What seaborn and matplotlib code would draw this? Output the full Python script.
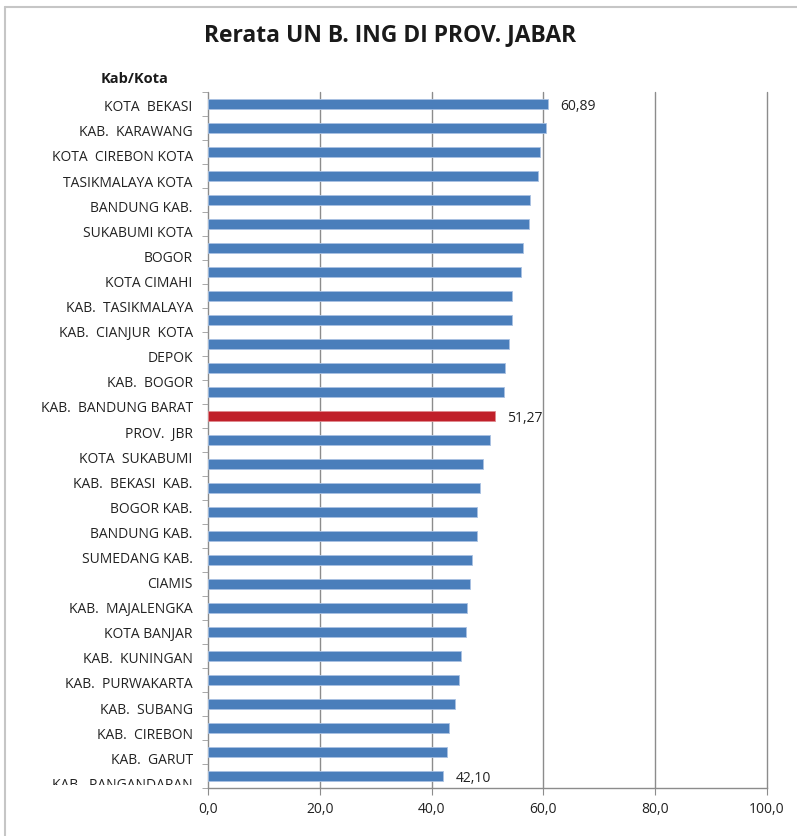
import numpy as np
import pandas as pd
import matplotlib.pyplot as plt
from matplotlib.lines import Line2D
from matplotlib.patches import Rectangle
import seaborn as sns

# label kab/kota (28 label terbaca, 29 batang pada grafik asli)
kab_kota = ['KOTA  BEKASI', 'KAB.  KARAWANG', 'KOTA  CIREBON KOTA', 'TASIKMALAYA KOTA',
            'BANDUNG KAB.', 'SUKABUMI KOTA', 'BOGOR', 'KOTA CIMAHI',
            'KAB.  TASIKMALAYA', 'KAB.  CIANJUR  KOTA', 'DEPOK', 'KAB.  BOGOR',
            'KAB.  BANDUNG BARAT', 'PROV.  JBR', 'KOTA  SUKABUMI', 'KAB.  BEKASI  KAB.',
            'BOGOR KAB.', 'BANDUNG KAB.', 'SUMEDANG KAB.', 'CIAMIS',
            'KAB.  MAJALENGKA', 'KOTA BANJAR', 'KAB.  KUNINGAN', 'KAB.  PURWAKARTA',
            'KAB.  SUBANG', 'KAB.  CIREBON', 'KAB.  GARUT', 'KAB.  PANGANDARAN']
rerata = [60.89, 60.5, 59.4, 59.0, 57.6, 57.5, 56.4, 55.9, 54.4, 54.3,
          53.8, 53.1, 52.9, 51.27, 50.5, 49.2, 48.6, 48.2, 48.1, 47.3,
          46.9, 46.3, 46.1, 45.3, 44.9, 44.2, 43.1, 42.8, 42.10]
highlight = 13          # batang rata-rata provinsi
show_value = [0, 13, 28]
x_ticks = [0, 20, 40, 60, 80, 100]

BLUE = '#4a7ebb'
RED = '#c0202a'

df = pd.DataFrame({'pos': range(len(rerata)), 'nilai': rerata})
colors = [RED if i == highlight else BLUE for i in range(len(rerata))]

sns.set_style('white')
plt.rcParams['font.family'] = ['Open Sans', 'DejaVu Sans']

fig = plt.figure(figsize=(7.97, 8.36), dpi=100)
ax = fig.add_axes([0.261, 0.0574, 0.7014, 0.8325])

sns.barplot(data=df, x='nilai', y='pos', hue='pos', palette=colors, orient='h',
            width=0.42, saturation=1, legend=False, edgecolor='#a9c1e2',
            linewidth=0.6, ax=ax)
for i, p in enumerate(ax.patches):
    if i == highlight:
        p.set_edgecolor('#e08a8f')

ax.set_xlim(0, 100)
ax.set_ylim(len(rerata) - 0.5, -0.5)
ax.set_xticks(x_ticks)
ax.set_xticklabels([f'{v:.1f}'.replace('.', ',') for v in x_ticks], fontsize=10, color='#222222')
ax.xaxis.grid(True, color='#8c8c8c', linewidth=1)
ax.set_axisbelow(True)
ax.tick_params(axis='x', length=5, color='#8c8c8c', pad=5, bottom=True)
for g in ax.xaxis.get_gridlines():
    g.set_clip_on(False)

# label kategori bergeser relatif terhadap batang (seperti aslinya)
label_pos = np.arange(len(kab_kota)) * 25.1 / 24 + 0.07
ax.set_yticks(label_pos)
ax.set_yticklabels(kab_kota, fontsize=10, color='#222222')
ax.set_yticks(np.arange(len(rerata) + 1) - 0.5, minor=True)
ax.tick_params(axis='y', which='major', length=0, pad=11)
ax.tick_params(axis='y', which='minor', length=4, color='#9a9a9a', left=True)
ax.set_xlabel('')
ax.set_ylabel('')

for s in ['top', 'right', 'left']:
    ax.spines[s].set_visible(False)
ax.spines['bottom'].set_color('#8c8c8c')
ax.spines['bottom'].set_linewidth(1)

# label terbawah terpotong oleh area plot
clip = Rectangle((0, 1 - 785 / 836), 1, 1, transform=fig.transFigure)
for t in ax.yaxis.get_major_ticks():
    t.label1.set_clip_path(clip)
    t.label1.set_clip_on(True)

for i in show_value:
    ax.annotate(f'{rerata[i]:.2f}'.replace('.', ','), xy=(rerata[i], i),
                xytext=(12, -2), textcoords='offset pixels', va='center', ha='left',
                fontsize=10, color='#222222')

fig.text(0.489, 1 - 35 / 836, 'Rerata UN B. ING DI PROV. JABAR', ha='center', va='center',
         fontsize=16.5, fontweight='bold', color='#1a1a1a')
fig.text(135 / 797, 1 - 79 / 836, 'Kab/Kota', ha='center', va='center',
         fontsize=10.5, fontweight='bold', color='#1a1a1a')

# bingkai area grafik
fig.add_artist(Line2D([5 / 797, 1], [1 - 7 / 836, 1 - 7 / 836], color='#c6c6c6', linewidth=1.5))
fig.add_artist(Line2D([5 / 797, 5 / 797], [0, 1 - 7 / 836], color='#c6c6c6', linewidth=1.5))

fig.savefig('out.png', dpi=100)
